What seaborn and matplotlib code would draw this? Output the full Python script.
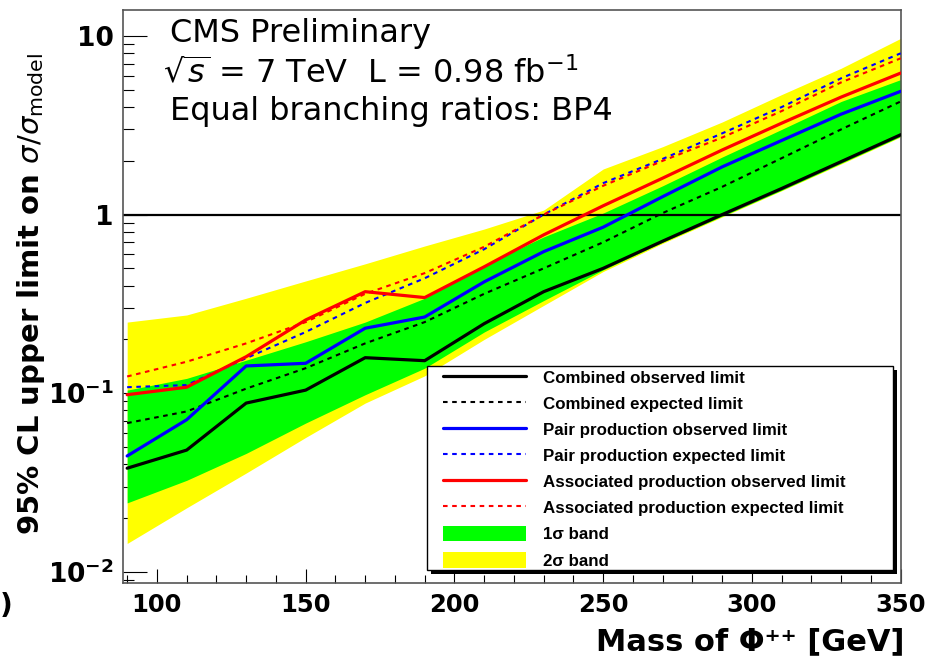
import matplotlib
matplotlib.use("Agg")
import matplotlib.pyplot as plt
import seaborn as sns
from matplotlib.lines import Line2D
from matplotlib.patches import Patch, Rectangle
from matplotlib.ticker import MultipleLocator, LogLocator, FixedLocator, FuncFormatter, NullFormatter

# Doubly-charged Higgs mass points [GeV]
mass = [90, 110, 130, 150, 170, 190, 210, 230, 250, 270, 290, 310, 330, 350]

# 95% CL upper limits on sigma/sigma_model
comb_obs = [0.038, 0.048, 0.088, 0.104, 0.158, 0.152, 0.245, 0.37, 0.50, 0.71, 1.0, 1.40, 1.98, 2.8]
comb_exp = [0.068, 0.079, 0.106, 0.138, 0.19, 0.25, 0.36, 0.50, 0.70, 1.02, 1.43, 2.07, 3.0, 4.3]
pair_obs = [0.0445, 0.071, 0.142, 0.147, 0.231, 0.267, 0.42, 0.62, 0.85, 1.26, 1.85, 2.6, 3.65, 4.9]
pair_exp = [0.108, 0.111, 0.157, 0.22, 0.32, 0.44, 0.64, 1.0, 1.5, 2.05, 2.85, 4.0, 5.8, 8.0]
assoc_obs = [0.098, 0.108, 0.16, 0.257, 0.37, 0.343, 0.51, 0.77, 1.12, 1.6, 2.3, 3.25, 4.55, 6.2]
assoc_exp = [0.124, 0.15, 0.19, 0.25, 0.36, 0.47, 0.66, 1.0, 1.45, 2.0, 2.7, 3.8, 5.5, 7.5]

# Expected-limit uncertainty bands (combined)
band1_lo = [0.0243, 0.0325, 0.046, 0.068, 0.098, 0.138, 0.22, 0.33, 0.49, 0.70, 0.98, 1.37, 1.94, 2.74]
band1_hi = [0.104, 0.121, 0.153, 0.194, 0.25, 0.34, 0.52, 0.75, 1.02, 1.45, 2.1, 3.0, 4.3, 5.7]
band2_lo = [0.0144, 0.0228, 0.0357, 0.0565, 0.088, 0.125, 0.2, 0.31, 0.48, 0.69, 0.97, 1.36, 1.92, 2.72]
band2_hi = [0.25, 0.274, 0.34, 0.425, 0.53, 0.667, 0.83, 1.06, 1.8, 2.4, 3.3, 4.7, 6.6, 9.7]

legend_labels = [
    "Combined observed limit",
    "Combined expected limit",
    "Pair production observed limit",
    "Pair production expected limit",
    "Associated production observed limit",
    "Associated production expected limit",
    "1\u03c3 band",
    "2\u03c3 band",
]

GREEN = "#00ff00"
YELLOW = "#ffff00"
RED = "#ff0000"
BLUE = "#0000ff"
DOT = (0, (2.2, 2.2))

sns.set_theme(style="ticks")
plt.rcParams["font.family"] = ["DejaVu Sans"]
plt.rcParams["mathtext.fontset"] = "dejavusans"
plt.rcParams["text.color"] = "black"
plt.rcParams["axes.labelcolor"] = "black"
plt.rcParams["xtick.color"] = "black"
plt.rcParams["ytick.color"] = "black"

W, H = 946, 664
fig = plt.figure(figsize=(W / 100, H / 100), dpi=100)
fig.patch.set_facecolor("white")
ax = fig.add_axes([123.3 / W, 1 - 583 / H, (900.7 - 123.3) / W, (583 - 10) / H])
ax.set_facecolor("white")
ax.set_yscale("log")

ax.fill_between(mass, band2_lo, band2_hi, color=YELLOW, lw=0, zorder=1)
ax.fill_between(mass, band1_lo, band1_hi, color=GREEN, lw=0, zorder=1.5)
ax.axhline(1.0, color="black", lw=1.6, zorder=2)

series = [
    (comb_exp, "black", DOT, 1.5),
    (pair_exp, BLUE, DOT, 1.5),
    (assoc_exp, RED, DOT, 1.5),
    (comb_obs, "black", "-", 2.3),
    (pair_obs, BLUE, "-", 2.3),
    (assoc_obs, RED, "-", 2.3),
]
for i, (vals, col, ls, lw) in enumerate(series):
    sns.lineplot(x=mass, y=vals, color=col, linestyle=ls, lw=lw, ax=ax, zorder=3 + i * 0.1)

ax.set_xlim(88.7, 350)
ax.set_ylim(0.00865, 13.98)

# Axis ticks (inside, ROOT style)
ax.xaxis.set_major_locator(MultipleLocator(50))
ax.xaxis.set_minor_locator(MultipleLocator(10))
ax.yaxis.set_major_locator(FixedLocator([0.01, 0.1, 1, 10]))
ax.yaxis.set_minor_locator(LogLocator(base=10, subs=range(2, 10)))
ax.yaxis.set_minor_formatter(NullFormatter())

ylab = {0.01: r"$\mathbf{10^{-2}}$", 0.1: r"$\mathbf{10^{-1}}$", 1: "1", 10: "10"}
ax.yaxis.set_major_formatter(FuncFormatter(lambda v, p: min(ylab.items(), key=lambda kv: abs(kv[0] - v))[1]))

spine_col = "#555555"
ax.tick_params(axis="both", which="both", direction="in", colors="black", width=0.8)
ax.tick_params(axis="x", which="major", length=10, pad=7, labelsize=17.5)
ax.tick_params(axis="x", which="minor", length=5.5)
ax.tick_params(axis="y", which="major", length=17, pad=7, labelsize=19)
ax.tick_params(axis="y", which="minor", length=8)
for t in ax.get_xticklabels() + ax.get_yticklabels():
    t.set_fontweight("bold")
for s in ax.spines.values():
    s.set_color(spine_col)
    s.set_linewidth(1.2)
    s.set_visible(True)
for t in ax.xaxis.get_ticklines(minor=True) + ax.xaxis.get_ticklines():
    t.set_color(spine_col)
for t in ax.yaxis.get_ticklines(minor=True) + ax.yaxis.get_ticklines():
    t.set_color(spine_col)

ax.set_ylabel(r"95% CL upper limit on $\sigma/\sigma_{\mathrm{model}}$",
              fontsize=21, fontweight="bold", va="center")
ax.yaxis.set_label_coords((31 - 123.3) / 777.4, 0.505)
ax.set_xlabel("Mass of \u03a6\u207a\u207a [GeV]", fontsize=22, fontweight="bold",
              ha="right", va="baseline")
ax.xaxis.set_label_coords(1.005, (583 - 650) / 573)

# Header text
fig.text(170 / W, 1 - 42 / H, "CMS Preliminary", fontsize=23, va="baseline", ha="left")
fig.text(163 / W, 1 - 82 / H, r"$\sqrt{s}$ = 7 TeV  L = 0.98 fb$^{-1}$", fontsize=23,
         va="baseline", ha="left")
fig.text(170 / W, 1 - 120 / H, "Equal branching ratios: BP4", fontsize=23,
         va="baseline", ha="left")

# Legend box with drop shadow
bx0, by0, bx1, by1 = 426.7, 366, 893.3, 570
shadow = Rectangle(((bx0 + 4) / W, 1 - (by1 + 4) / H), (bx1 - bx0) / W, (by1 - by0) / H,
                   transform=fig.transFigure, facecolor="black", edgecolor="none",
                   clip_on=False, zorder=8)
frame = Rectangle((bx0 / W, 1 - by1 / H), (bx1 - bx0) / W, (by1 - by0) / H,
                  transform=fig.transFigure, facecolor="white", edgecolor="black",
                  lw=1.0, clip_on=False, zorder=8.5)
ax.add_artist(shadow)
ax.add_artist(frame)

handles = [
    Line2D([], [], color="black", lw=2.3),
    Line2D([], [], color="black", lw=1.5, ls=DOT),
    Line2D([], [], color=BLUE, lw=2.3),
    Line2D([], [], color=BLUE, lw=1.5, ls=DOT),
    Line2D([], [], color=RED, lw=2.3),
    Line2D([], [], color=RED, lw=1.5, ls=DOT),
    Patch(facecolor=GREEN, edgecolor="none"),
    Patch(facecolor=YELLOW, edgecolor="none"),
]
leg = ax.legend(handles, legend_labels, loc="upper left",
                bbox_to_anchor=(443 / W, 1 - 369 / H), bbox_transform=fig.transFigure,
                frameon=False, borderpad=0, borderaxespad=0,
                prop=dict(family="Liberation Sans", weight="bold", size=12.2),
                handlelength=4.9, handletextpad=1.0, labelspacing=0.56,
                handleheight=1.05)
leg.set_zorder(9)
for txt in leg.get_texts():
    txt.set_color("black")

fig.text(0.0, 1 - 606 / H, ")", fontsize=20, fontweight="bold", va="center", ha="left")

fig.savefig("out.png", dpi=100, facecolor="white")
